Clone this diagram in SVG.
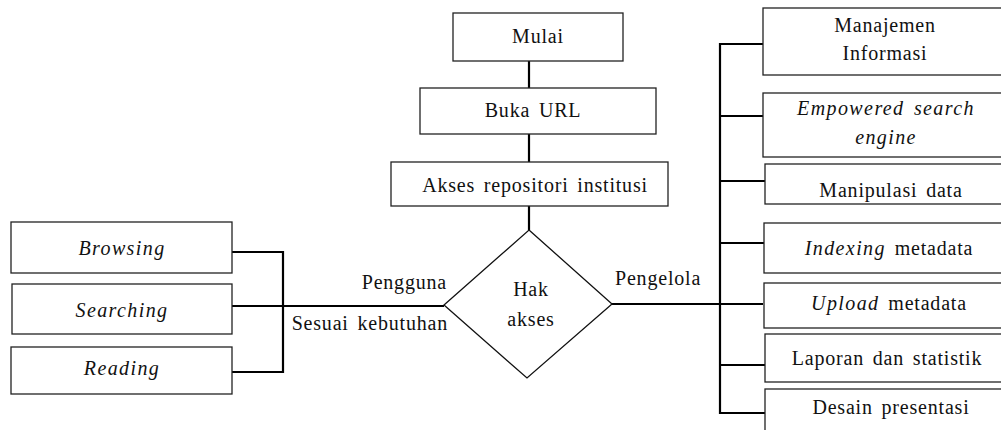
<svg xmlns="http://www.w3.org/2000/svg" width="1001" height="430" viewBox="0 0 1001 430" font-family="'Liberation Serif', 'Times New Roman', serif">
  <style>
    .box { fill: #fff; stroke: #222; stroke-width: 1.3; }
    .dia { fill: #fff; stroke: #111; stroke-width: 1.3; }
    .wire { fill: none; stroke: #000; stroke-width: 2.2; }
    text { font-family: "Liberation Serif", "Times New Roman", serif; font-size: 20px; fill: #111; letter-spacing: 0.8px; word-spacing: 3px; }
    .c { text-anchor: middle; }
    .it { font-style: italic; letter-spacing: 1.4px; }
  </style>
  <rect width="1001" height="430" fill="#fff"/>

  <g id="connectors">
    <!-- main vertical flow -->
    <line class="wire" x1="529" y1="61" x2="529" y2="88"/>
    <line class="wire" x1="529" y1="134" x2="529" y2="162"/>
    <line class="wire" x1="529" y1="206" x2="529" y2="230"/>
    <!-- user branch -->
    <line class="wire" x1="232" y1="306" x2="444" y2="306"/>
    <polyline class="wire" points="232,252 283,252 283,372 232,372"/>
    <!-- manager branch -->
    <line class="wire" x1="612" y1="304" x2="763" y2="304"/>
    <polyline class="wire" points="763,44 720,44 720,413 765,413"/>
    <line class="wire" x1="720" y1="116" x2="763" y2="116"/>
    <line class="wire" x1="720" y1="181" x2="765" y2="181"/>
    <line class="wire" x1="720" y1="243" x2="764" y2="243"/>
    <line class="wire" x1="720" y1="365" x2="765" y2="365"/>
  </g>

  <g id="mulai">
    <rect class="box" x="453" y="13" width="170" height="48"/>
    <text class="c" x="538" y="43">Mulai</text>
  </g>
  <g id="buka-url">
    <rect class="box" x="420" y="88" width="236" height="46"/>
    <text class="c" x="533" y="117">Buka URL</text>
  </g>
  <g id="akses-repositori">
    <rect class="box" x="391" y="162" width="277" height="44"/>
    <text class="c" x="535" y="192">Akses repositori institusi</text>
  </g>
  <g id="hak-akses">
    <polygon class="dia" points="529,230 612,304 527,378 444,305"/>
    <text class="c" x="531" y="296">Hak</text>
    <text class="c" x="531" y="326">akses</text>
  </g>

  <g id="edge-labels">
    <text x="447" y="289" text-anchor="end">Pengguna</text>
    <text x="448" y="330" text-anchor="end">Sesuai kebutuhan</text>
    <text x="615" y="285">Pengelola</text>
  </g>

  <g id="browsing">
    <rect class="box" x="11" y="222" width="221" height="51"/>
    <text class="c it" x="122" y="255">Browsing</text>
  </g>
  <g id="searching">
    <rect class="box" x="12" y="284" width="220" height="50"/>
    <text class="c it" x="122" y="317">Searching</text>
  </g>
  <g id="reading">
    <rect class="box" x="11" y="347" width="221" height="47"/>
    <text class="c it" x="122" y="375">Reading</text>
  </g>

  <g id="manajemen-informasi">
    <rect class="box" x="763" y="8" width="246" height="67"/>
    <text class="c" x="885" y="32">Manajemen</text>
    <text class="c" x="885" y="60">Informasi</text>
  </g>
  <g id="empowered-search">
    <rect class="box" x="763" y="93" width="246" height="64"/>
    <text class="c it" x="886" y="115">Empowered search</text>
    <text class="c it" x="886" y="144">engine</text>
  </g>
  <g id="manipulasi-data">
    <rect class="box" x="765" y="164" width="246" height="40"/>
    <text class="c" x="891" y="197">Manipulasi data</text>
  </g>
  <g id="indexing-metadata">
    <rect class="box" x="764" y="223" width="246" height="50"/>
    <text class="c" x="889" y="255"><tspan class="it">Indexing</tspan> metadata</text>
  </g>
  <g id="upload-metadata">
    <rect class="box" x="764" y="283" width="246" height="45"/>
    <text class="c" x="889" y="310"><tspan class="it">Upload</tspan> metadata</text>
  </g>
  <g id="laporan-statistik">
    <rect class="box" x="765" y="334" width="246" height="48"/>
    <text class="c" x="887" y="365">Laporan dan statistik</text>
  </g>
  <g id="desain-presentasi">
    <rect class="box" x="765" y="389" width="246" height="50"/>
    <text class="c" x="891" y="414">Desain presentasi</text>
  </g>
</svg>
